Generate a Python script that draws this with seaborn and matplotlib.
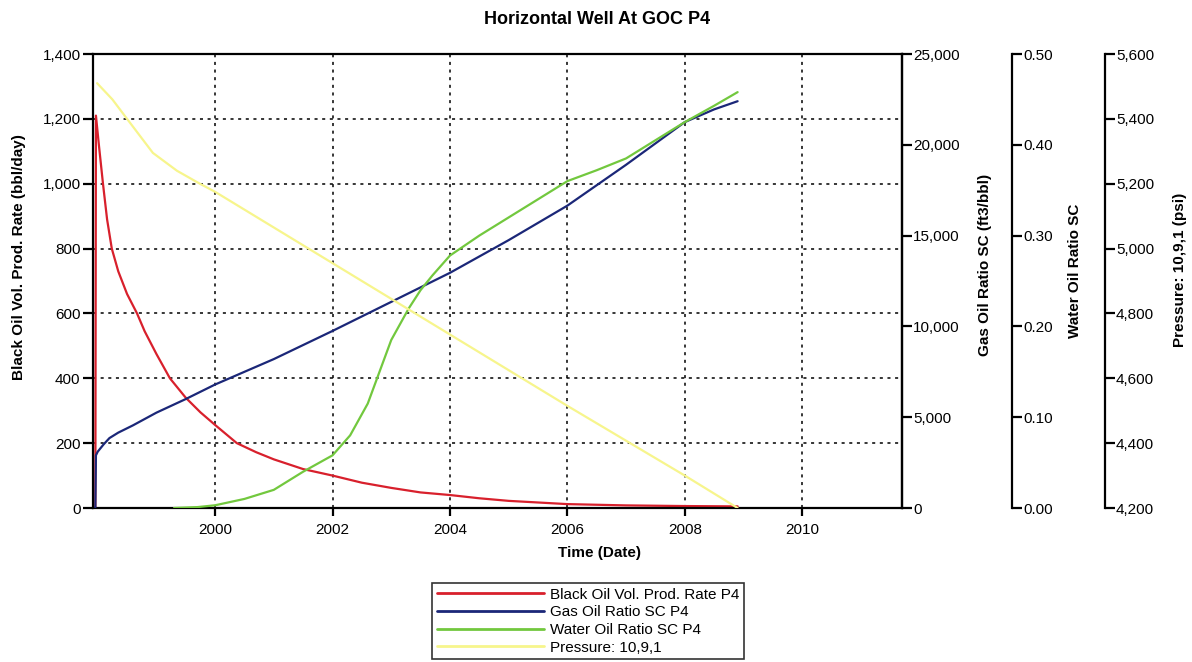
# Horizontal well at GOC P4: rate, GOR, WOR, pressure vs time

import matplotlib
matplotlib.use("Agg")
import matplotlib.pyplot as plt
import matplotlib.ticker as mticker
import seaborn as sns
import pandas as pd

sns.set_style("white")
plt.rcParams['font.family'] = ['Liberation Sans', 'DejaVu Sans']
plt.rcParams['text.color'] = 'black'
plt.rcParams['axes.labelcolor'] = 'black'
plt.rcParams['xtick.color'] = 'black'
plt.rcParams['ytick.color'] = 'black'

# --- data (time in decimal years) ---
oil_t = [1997.96, 1997.97, 1998.02, 1998.09, 1998.16, 1998.24, 1998.35, 1998.5, 1998.67, 1998.8,
         1999.0, 1999.23, 1999.5, 1999.75, 2000.0, 2000.37, 2000.7, 2001.0, 2001.5, 2002.0,
         2002.5, 2003.0, 2003.5, 2004.0, 2004.5, 2005.0, 2006.0, 2007.0, 2008.0, 2008.9]
oil_rate = [0, 1210, 1120, 1000, 890, 800, 730, 660, 600, 545,
            475, 400, 340, 295, 256, 200, 172, 150, 120, 100,
            78, 62, 48, 40, 30, 22, 12, 8, 6, 5]

gor_t = [1997.96, 1997.97, 1998.0, 1998.1, 1998.2, 1998.35, 1998.6, 1999.0, 1999.5, 2000.0,
         2001.0, 2002.0, 2003.0, 2004.0, 2005.0, 2006.0, 2007.0, 2008.0, 2008.5, 2008.9]
gor = [0, 2900, 3100, 3500, 3850, 4150, 4550, 5250, 6000, 6800,
       8200, 9750, 11350, 12950, 14750, 16650, 18900, 21250, 21950, 22400]

wor_t = [1999.3, 1999.7, 2000.0, 2000.5, 2001.0, 2001.5, 2002.0, 2002.3, 2002.6, 2002.8,
         2003.0, 2003.3, 2003.5, 2003.7, 2004.0, 2004.5, 2005.0, 2005.5, 2006.0, 2006.5,
         2007.0, 2007.5, 2008.0, 2008.5, 2008.9]
wor = [0.0, 0.001, 0.003, 0.01, 0.02, 0.04, 0.058, 0.08, 0.115, 0.15,
       0.185, 0.22, 0.24, 0.256, 0.278, 0.30, 0.32, 0.34, 0.36, 0.372,
       0.385, 0.405, 0.425, 0.443, 0.458]

p_t = [1997.99, 1998.25, 1998.5, 1998.94, 1999.35, 1999.74, 2000.0, 2002.0, 2004.0, 2006.0, 2008.0, 2008.9]
pressure = [5510, 5460, 5400, 5295, 5240, 5200, 5175, 4955, 4735, 4515, 4300, 4200]

year_ticks = [2000, 2002, 2004, 2006, 2008, 2010]

labels = ["Black Oil Vol. Prod. Rate P4", "Gas Oil Ratio SC P4",
          "Water Oil Ratio SC P4", "Pressure: 10,9,1"]
colors = ["#d8202c", "#1b2778", "#72c83e", "#f7f58c"]

oil_df = pd.DataFrame({"t": oil_t, "v": oil_rate})
gor_df = pd.DataFrame({"t": gor_t, "v": gor})
wor_df = pd.DataFrame({"t": wor_t, "v": wor})
p_df = pd.DataFrame({"t": p_t, "v": pressure})

fig = plt.figure(figsize=(11.92, 6.62), dpi=100)
ax = fig.add_axes([93 / 1192, 1 - 508 / 662, 809 / 1192, 454 / 662])
ax_gor = ax.twinx()
ax_wor = ax.twinx()
ax_p = ax.twinx()
ax_wor.spines['right'].set_position(('axes', 919 / 809))
ax_p.spines['right'].set_position(('axes', 1012 / 809))

lw = 1.6
sns.lineplot(data=p_df, x="t", y="v", ax=ax_p, color=colors[3], lw=lw,
             estimator=None, sort=False, legend=False)
sns.lineplot(data=oil_df, x="t", y="v", ax=ax, color=colors[0], lw=lw,
             estimator=None, sort=False, legend=False)
sns.lineplot(data=gor_df, x="t", y="v", ax=ax_gor, color=colors[1], lw=lw,
             estimator=None, sort=False, legend=False)
sns.lineplot(data=wor_df, x="t", y="v", ax=ax_wor, color=colors[2], lw=lw,
             estimator=None, sort=False, legend=False)

ax.set_xlim(1997.92, 2011.70)
ax.set_ylim(0, 1400)
ax_gor.set_ylim(0, 25000)
ax_wor.set_ylim(0, 0.5)
ax_p.set_ylim(4200, 5600)

ax.set_xticks(year_ticks)
ax.xaxis.set_major_formatter(mticker.FuncFormatter(lambda v, p: f"{v:.0f}"))
ax.set_yticks(range(0, 1401, 200))
ax.yaxis.set_major_formatter(mticker.FuncFormatter(lambda v, p: f"{v:,.0f}"))
ax_gor.set_yticks(range(0, 25001, 5000))
ax_gor.yaxis.set_major_formatter(mticker.FuncFormatter(lambda v, p: f"{v:,.0f}"))
ax_wor.set_yticks([0, 0.1, 0.2, 0.3, 0.4, 0.5])
ax_wor.yaxis.set_major_formatter(mticker.FuncFormatter(lambda v, p: f"{v:.2f}"))
ax_p.set_yticks(range(4200, 5601, 200))
ax_p.yaxis.set_major_formatter(mticker.FuncFormatter(lambda v, p: f"{v:,.0f}"))

ax.grid(True, color="black", linestyle=(0, (2, 3)), linewidth=1.1)

for a in (ax, ax_gor, ax_wor, ax_p):
    a.set_xlabel("")
    a.set_ylabel("")
    for s in a.spines.values():
        s.set_color("black")
        s.set_linewidth(1.6)
for a in (ax_gor, ax_wor, ax_p):
    for side in ("top", "bottom", "left"):
        a.spines[side].set_visible(False)
    a.tick_params(axis="y", direction="out", length=7, width=1.6, pad=1,
                  labelsize=11, colors="black")
ax.tick_params(axis="y", direction="out", length=7, width=1.6, pad=2, labelsize=11,
               left=True)
ax.tick_params(axis="x", direction="out", length=6, width=1.6, pad=5, labelsize=11,
               bottom=True)

ax.set_xlabel("Time (Date)", fontsize=11, fontweight="bold")
ax.xaxis.set_label_coords(507 / 809, -45 / 454)
ax.xaxis.label.set_va("center")

ylabels = [(ax, "Black Oil Vol. Prod. Rate (bbl/day)", -74 / 809, 0.553),
           (ax_gor, "Gas Oil Ratio SC (ft3/bbl)", 892 / 809, 0.535),
           (ax_wor, "Water Oil Ratio SC", 982 / 809, 0.522),
           (ax_p, "Pressure: 10,9,1 (psi)", 1087 / 809, 0.524)]
for a, text, x, y in ylabels:
    a.set_ylabel(text, fontsize=11, fontweight="bold")
    a.yaxis.set_label_coords(x, y)
    a.yaxis.label.set_va("center")

fig.text(597 / 1192, 1 - 19 / 662, "Horizontal Well At GOC P4", ha="center", va="center",
         fontsize=13, fontweight="bold")

handles = [plt.Line2D([], [], color=c, lw=2) for c in colors]
leg = fig.legend(handles, labels, loc="upper left",
                 bbox_to_anchor=(432 / 1192, 1 - 583 / 662), fontsize=11,
                 frameon=True, fancybox=False, handlelength=7.0, handletextpad=0.45,
                 labelspacing=0.24, borderpad=0.3, borderaxespad=0)
leg.get_frame().set_edgecolor("black")
leg.get_frame().set_linewidth(1.2)

fig.savefig("out.png", dpi=100)
